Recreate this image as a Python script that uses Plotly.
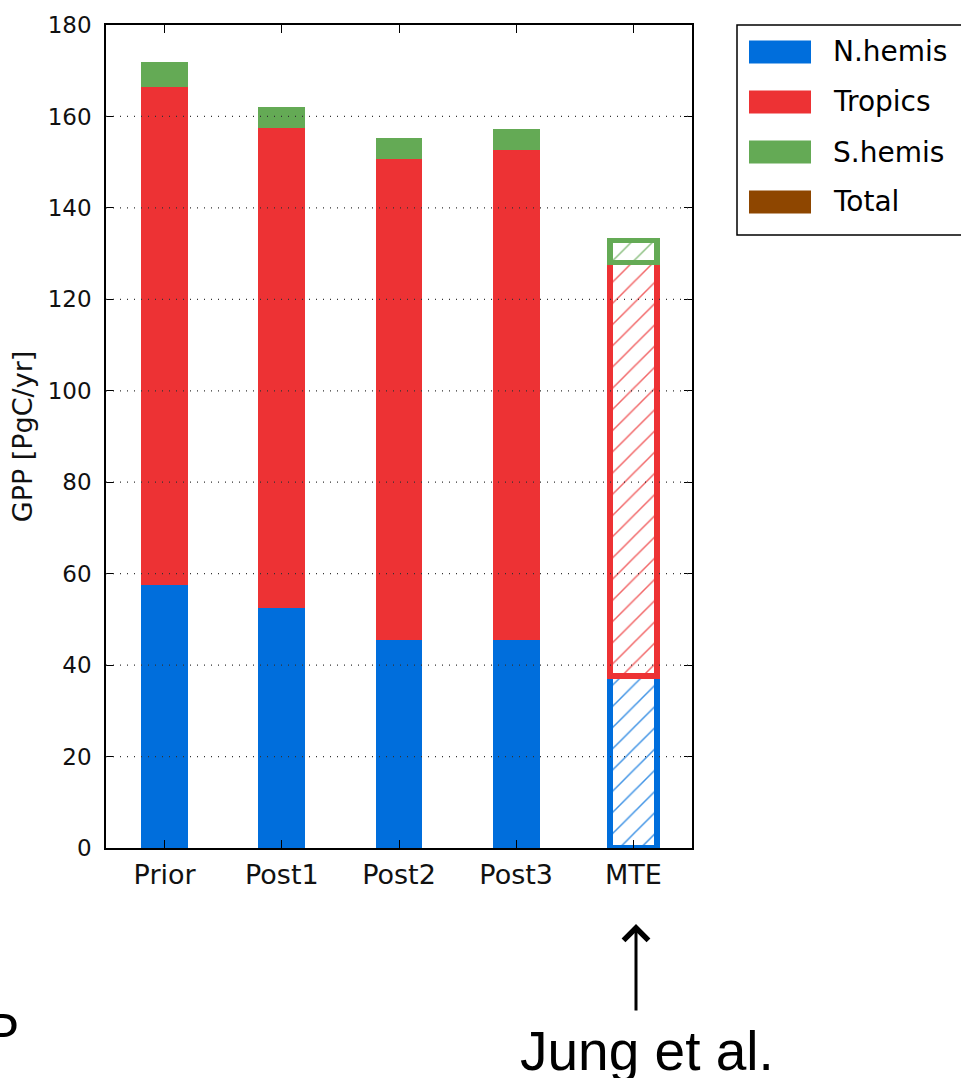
import plotly.graph_objects as go

# ---- data ----
categories = ["Prior", "Post1", "Post2", "Post3", "MTE"]
n_hemis = [57.5, 52.5, 45.5, 45.5, 37.6]
tropics = [109.0, 105.0, 105.3, 107.2, 90.5]
s_hemis = [5.3, 4.5, 4.5, 4.5, 4.8]
hatched = [False, False, False, False, True]   # MTE (Jung et al.) drawn hatched
series_names = ["N.hemis", "Tropics", "S.hemis", "Total"]
series_colors = ["#006EDC", "#ED3234", "#64AA55", "#8E4600"]
y_ticks = [0, 20, 40, 60, 80, 100, 120, 140, 160, 180]

W, H = 961, 1078
ML, MR, MT, MB = 106, 269, 25, 230
PW, PH = W - ML - MR, H - MT - MB


def px(x):
    return (x - ML) / PW


def py(y):
    return (H - MB - y) / PH


fig = go.Figure()
series_vals = [n_hemis, tropics, s_hemis]
for name, vals, col in zip(series_names[:3], series_vals, series_colors[:3]):
    xs = [c for c, h in zip(categories, hatched) if not h]
    ys = [v for v, h in zip(vals, hatched) if not h]
    fig.add_trace(go.Bar(x=xs, y=ys, name=name, width=0.4,
                         marker=dict(color=col, line=dict(width=0)),
                         showlegend=False))
for name, vals, col in zip(series_names[:3], series_vals, series_colors[:3]):
    xs = [c for c, h in zip(categories, hatched) if h]
    ys = [v for v, h in zip(vals, hatched) if h]
    fig.add_trace(go.Bar(x=xs, y=ys, name=name, width=0.4,
                         marker=dict(color="white", line=dict(width=5.5, color=col),
                                     pattern=dict(shape="/", fgcolor=col, bgcolor="white",
                                                  size=15, solidity=0.1, fgopacity=0.75,
                                                  fillmode="overlay")),
                         showlegend=False))

# dotted grid drawn above the bars (as in the original)
for t in y_ticks[1:-1]:
    fig.add_shape(type="line", xref="paper", x0=0, x1=1, yref="y", y0=t, y1=t,
                  line=dict(color="#333333", width=1.3, dash="1px,6px"), layer="above")

# ---- manual legend (wide patches) ----
fig.add_shape(type="rect", xref="paper", yref="paper",
              x0=px(737), x1=px(1000), y0=py(235), y1=py(25),
              line=dict(color="black", width=1.5), fillcolor="white", layer="above")
for i, (name, col) in enumerate(zip(series_names, series_colors)):
    cy = 52 + 50 * i
    fig.add_shape(type="rect", xref="paper", yref="paper",
                  x0=px(749), x1=px(811), y0=py(cy + 11.5), y1=py(cy - 11.5),
                  line=dict(width=0), fillcolor=col, layer="above")
    fig.add_annotation(x=px(831), y=py(cy), xref="paper", yref="paper",
                       text=name, showarrow=False, xanchor="left", yanchor="middle",
                       font=dict(family="DejaVu Sans", size=28, color="black"))

# ---- annotations ----
fig.add_annotation(x=px(647), y=py(1051), xref="paper", yref="paper",
                   text="Jung et al.", showarrow=False, xanchor="center", yanchor="middle",
                   font=dict(family="Liberation Sans, Arial", size=55, color="black"))
fig.add_annotation(x=px(-18), y=py(1032), xref="paper", yref="paper",
                   text="P", showarrow=False, xanchor="left", yanchor="middle",
                   font=dict(family="Liberation Sans, Arial", size=53, color="black"))
fig.add_annotation(x=px(636), y=py(924), xref="paper", yref="paper",
                   ax=0, ay=88, text="", showarrow=True, arrowhead=4,
                   arrowwidth=3, arrowsize=1.6, arrowcolor="black", standoff=0)

fig.update_layout(
    width=W, height=H, barmode="stack",
    margin=dict(l=ML, r=MR, t=MT, b=MB, autoexpand=False),
    paper_bgcolor="white", plot_bgcolor="white",
    showlegend=False,
    font=dict(family="DejaVu Sans", color="#111111"),
)
fig.update_xaxes(type="category", categoryorder="array", categoryarray=categories,
                 range=[-0.5, 4.5], showgrid=False, showline=True, linecolor="black",
                 linewidth=1.5, mirror="ticks", ticks="inside", ticklen=8, tickwidth=1,
                 tickcolor="black", tickfont=dict(size=27, family="DejaVu Sans", color="#111111"),
                 ticklabelstandoff=2)
fig.update_yaxes(range=[0, 180], tickvals=y_ticks, showgrid=False, showline=True,
                 linecolor="black", linewidth=1.5, mirror="ticks", ticks="inside",
                 ticklen=8, tickwidth=1, tickcolor="black", zeroline=False,
                 tickfont=dict(size=23, family="DejaVu Sans", color="#111111"),
                 ticklabelstandoff=8,
                 title=dict(text="GPP [PgC/yr]", standoff=7,
                            font=dict(size=27, family="DejaVu Sans", color="#111111")))

fig.write_html("out.html", config={"displayModeBar": False},
               post_script="document.body.style.margin='0px';"
                           "document.body.style.overflow='hidden';")
